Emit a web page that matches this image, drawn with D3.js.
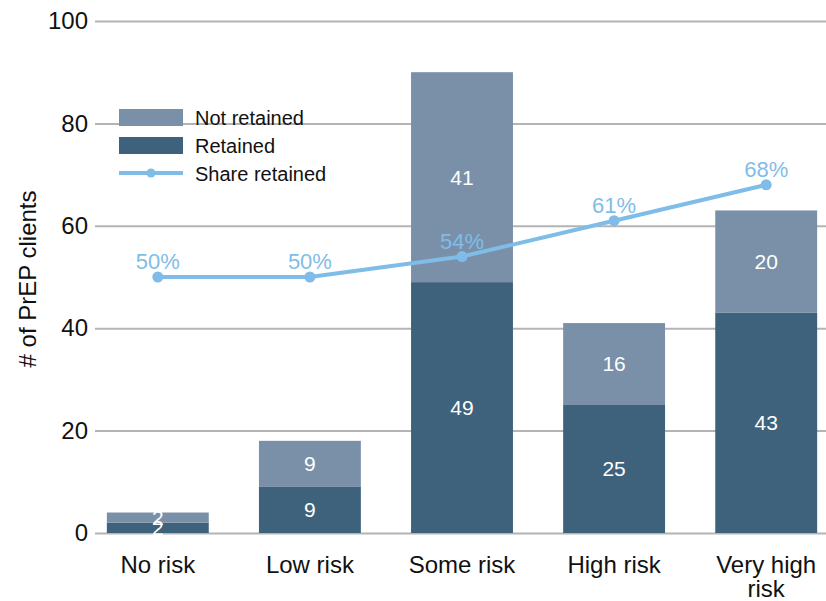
<!DOCTYPE html>
<html>
<head>
<meta charset="utf-8">
<script src="https://cdn.jsdelivr.net/npm/d3@7"></script>
<style>
  body { margin: 0; background: #fff; }
  text { font-family: "Liberation Sans", Arial, sans-serif; }
</style>
</head>
<body>
<script>
// data
var categories = ["No risk", "Low risk", "Some risk", "High risk", "Very high risk"];
var retained = [2, 9, 49, 25, 43];
var notRetained = [2, 9, 41, 16, 20];
var shareRetained = [50, 50, 54, 61, 68];
var yTicks = [0, 20, 40, 60, 80, 100];

var width = 826, height = 601;
var colNot = "#7a90a8", colRet = "#3e627c", colLine = "#7fbde8";

var svg = d3.select("body").append("svg")
  .attr("width", width)
  .attr("height", height);

var x = d3.scaleBand()
  .domain(categories)
  .range([81, 843])
  .paddingInner(0.33)
  .paddingOuter(0.17);

var y = d3.scaleLinear().domain([0, 100]).range([533, 21]);

// gridlines + y ticks
var yAxis = svg.append("g").attr("transform", "translate(95,0)")
  .call(d3.axisLeft(y).tickValues(yTicks).tickSize(-731).tickPadding(7));
yAxis.select(".domain").remove();
yAxis.selectAll(".tick line").attr("stroke", "#b4b4b4").attr("stroke-width", 2);
yAxis.selectAll(".tick text").attr("font-size", 24).attr("fill", "#111");

svg.append("text")
  .attr("transform", "translate(36,279) rotate(-90)")
  .attr("text-anchor", "middle")
  .attr("font-size", 24)
  .attr("fill", "#111")
  .text("# of PrEP clients");

// stacked bars
var rows = categories.map(function(c, i) {
  return { cat: c, ret: retained[i], not: notRetained[i], share: shareRetained[i] };
});

var g = svg.append("g");
g.selectAll(".ret").data(rows).enter().append("rect")
  .attr("x", function(d) { return x(d.cat); })
  .attr("width", x.bandwidth())
  .attr("y", function(d) { return y(d.ret); })
  .attr("height", function(d) { return y(0) - y(d.ret); })
  .attr("fill", colRet);

g.selectAll(".not").data(rows).enter().append("rect")
  .attr("x", function(d) { return x(d.cat); })
  .attr("width", x.bandwidth())
  .attr("y", function(d) { return y(d.ret + d.not); })
  .attr("height", function(d) { return y(d.ret) - y(d.ret + d.not); })
  .attr("fill", colNot);

// segment labels
g.selectAll(".lr").data(rows).enter().append("text")
  .attr("x", function(d) { return x(d.cat) + x.bandwidth() / 2; })
  .attr("y", function(d) { return y(d.ret / 2); })
  .attr("dy", "0.35em")
  .attr("text-anchor", "middle")
  .attr("font-size", 21)
  .attr("fill", "#fff")
  .text(function(d) { return d.ret; });

g.selectAll(".ln").data(rows).enter().append("text")
  .attr("x", function(d) { return x(d.cat) + x.bandwidth() / 2; })
  .attr("y", function(d) { return y(d.ret + d.not / 2); })
  .attr("dy", "0.35em")
  .attr("text-anchor", "middle")
  .attr("font-size", 21)
  .attr("fill", "#fff")
  .text(function(d) { return d.not; });

// share line
var line = d3.line()
  .x(function(d) { return x(d.cat) + x.bandwidth() / 2; })
  .y(function(d) { return y(d.share); });

svg.append("path").datum(rows)
  .attr("d", line)
  .attr("fill", "none")
  .attr("stroke", colLine)
  .attr("stroke-width", 4);

svg.selectAll(".dot").data(rows).enter().append("circle")
  .attr("cx", function(d) { return x(d.cat) + x.bandwidth() / 2; })
  .attr("cy", function(d) { return y(d.share); })
  .attr("r", 5.5)
  .attr("fill", colLine);

svg.selectAll(".pct").data(rows).enter().append("text")
  .attr("x", function(d) { return x(d.cat) + x.bandwidth() / 2; })
  .attr("y", function(d) { return y(d.share) - 8; })
  .attr("text-anchor", "middle")
  .attr("font-size", 22)
  .attr("fill", colLine)
  .text(function(d) { return d.share + "%"; });

// x labels
var xl = svg.selectAll(".xl").data(categories).enter().append("text")
  .attr("x", function(d) { return x(d) + x.bandwidth() / 2; })
  .attr("y", 573)
  .attr("text-anchor", "middle")
  .attr("font-size", 24)
  .attr("fill", "#111");
xl.each(function(d) {
  var t = d3.select(this);
  var lines = d === "Very high risk" ? ["Very high", "risk"] : [d];
  lines.forEach(function(s, i) {
    t.append("tspan")
      .attr("x", t.attr("x"))
      .attr("dy", i === 0 ? 0 : 24)
      .text(s);
  });
});

// legend
var legend = svg.append("g").attr("transform", "translate(119,109)");
legend.append("rect").attr("width", 64).attr("height", 17).attr("fill", colNot);
legend.append("rect").attr("y", 28).attr("width", 64).attr("height", 17).attr("fill", colRet);
legend.append("line").attr("x1", 0).attr("x2", 64).attr("y1", 64).attr("y2", 64)
  .attr("stroke", colLine).attr("stroke-width", 4);
legend.append("circle").attr("cx", 32).attr("cy", 64).attr("r", 4.5).attr("fill", colLine);
var legText = ["Not retained", "Retained", "Share retained"];
legend.selectAll(".lt").data(legText).enter().append("text")
  .attr("x", 76)
  .attr("y", function(d, i) { return 9 + i * 28; })
  .attr("dy", "0.35em")
  .attr("font-size", 20)
  .attr("fill", "#111")
  .text(function(d) { return d; });
</script>
</body>
</html>
